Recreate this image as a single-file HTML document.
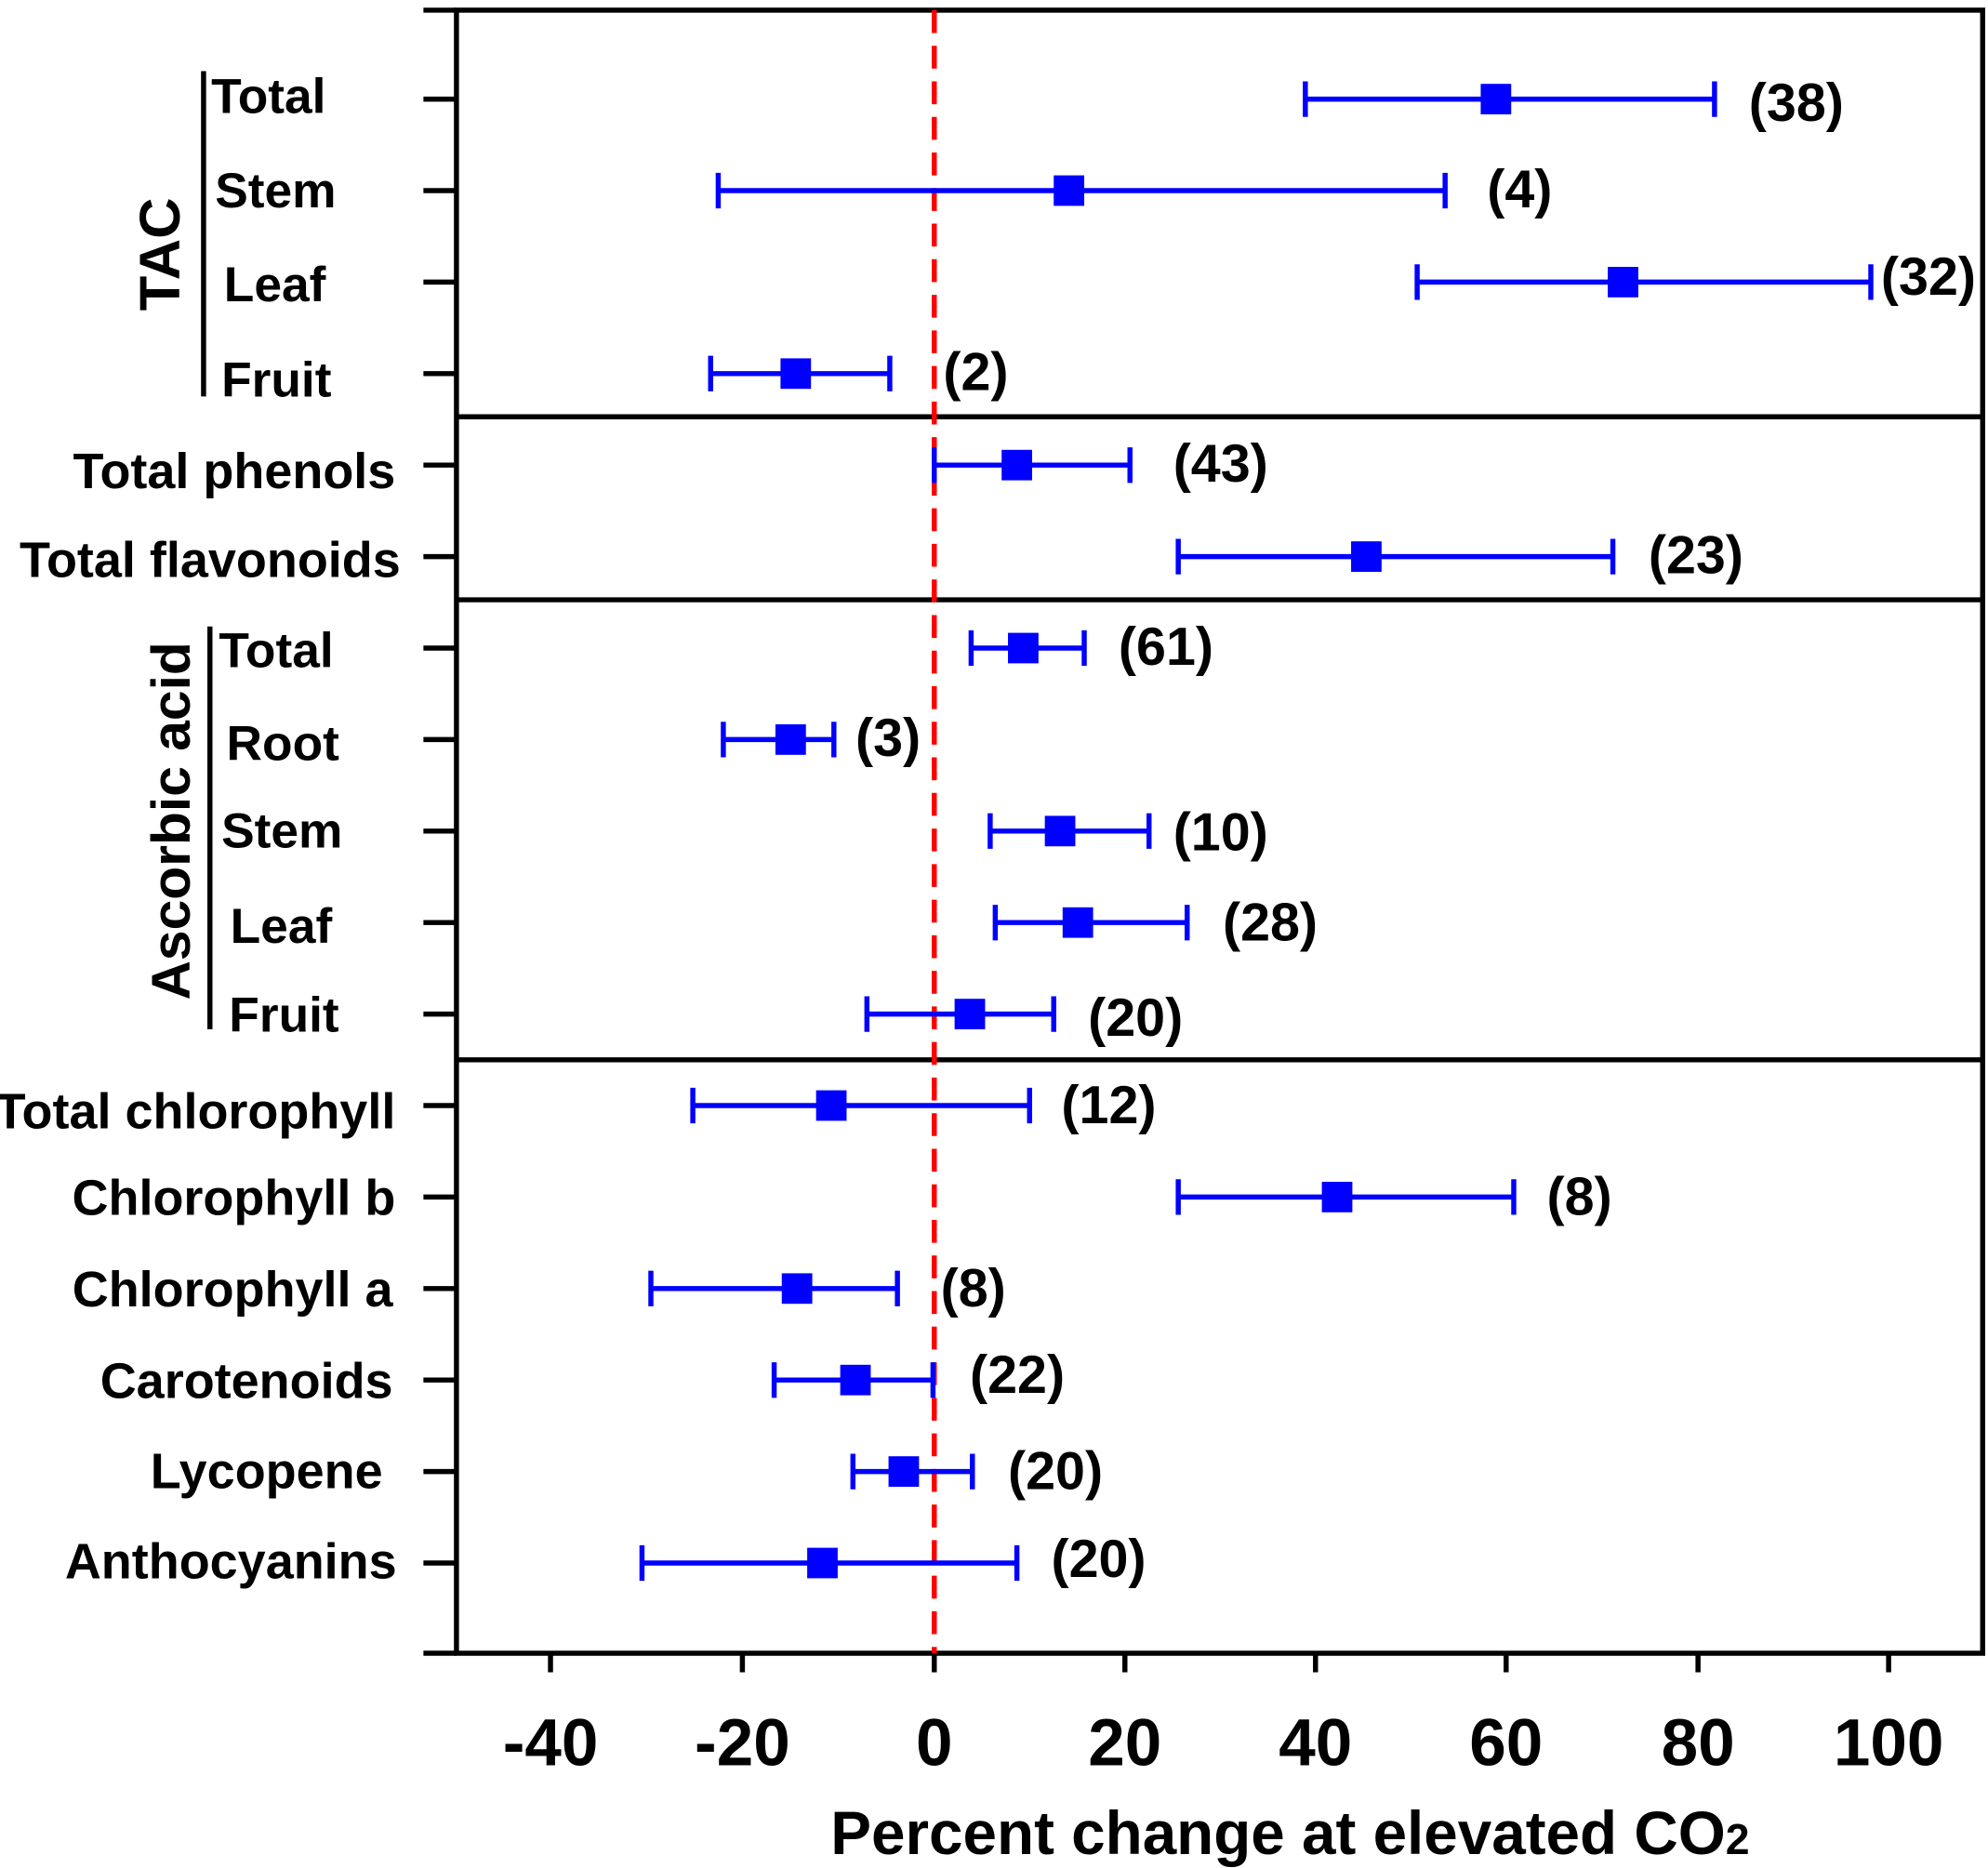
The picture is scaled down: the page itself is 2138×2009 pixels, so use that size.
<!DOCTYPE html>
<html><head><meta charset="utf-8"><style>
html,body{margin:0;padding:0;background:#fff}
svg{display:block}
text{font-family:"Liberation Sans",Arial,sans-serif;font-weight:bold;fill:#000}
</style></head><body>
<svg width="2138" height="2009" viewBox="0 0 1564 1470" xmlns="http://www.w3.org/2000/svg">
<g stroke="#000" stroke-width="4" fill="none">
<rect x="359" y="8" width="1201" height="1293"/>
<line x1="333" y1="8" x2="359" y2="8"/>
<line x1="333" y1="1301" x2="359" y2="1301"/>
<line x1="359" y1="328" x2="1560" y2="328"/>
<line x1="359" y1="472" x2="1560" y2="472"/>
<line x1="359" y1="834" x2="1560" y2="834"/>
<line x1="160" y1="56" x2="160" y2="312"/>
<line x1="165" y1="493" x2="165" y2="810"/>
</g>
<g stroke="#000" stroke-width="4">
<line x1="333" y1="78" x2="359" y2="78"/><line x1="333" y1="150" x2="359" y2="150"/>
<line x1="333" y1="222" x2="359" y2="222"/><line x1="333" y1="294" x2="359" y2="294"/>
<line x1="333" y1="366" x2="359" y2="366"/><line x1="333" y1="438" x2="359" y2="438"/>
<line x1="333" y1="510" x2="359" y2="510"/><line x1="333" y1="582" x2="359" y2="582"/>
<line x1="333" y1="654" x2="359" y2="654"/><line x1="333" y1="726" x2="359" y2="726"/>
<line x1="333" y1="798" x2="359" y2="798"/><line x1="333" y1="870" x2="359" y2="870"/>
<line x1="333" y1="942" x2="359" y2="942"/><line x1="333" y1="1014" x2="359" y2="1014"/>
<line x1="333" y1="1086" x2="359" y2="1086"/><line x1="333" y1="1158" x2="359" y2="1158"/>
<line x1="333" y1="1230" x2="359" y2="1230"/>
<line x1="433" y1="1301" x2="433" y2="1316"/><line x1="584" y1="1301" x2="584" y2="1316"/>
<line x1="735" y1="1301" x2="735" y2="1316"/><line x1="885" y1="1301" x2="885" y2="1316"/>
<line x1="1035" y1="1301" x2="1035" y2="1316"/><line x1="1185" y1="1301" x2="1185" y2="1316"/>
<line x1="1336" y1="1301" x2="1336" y2="1316"/><line x1="1486" y1="1301" x2="1486" y2="1316"/>
</g>
<line x1="735" y1="8" x2="735" y2="1301" stroke="#f00" stroke-width="4" stroke-dasharray="18,10"/>
<g stroke="#00f" stroke-width="4" fill="#00f">
<path d="M1027 78H1349M1027 64V92M1349 64V92"/><rect x="1165" y="66" width="24" height="24" stroke="none"/>
<path d="M565 150H1137M565 136V164M1137 136V164"/><rect x="829" y="138" width="24" height="24" stroke="none"/>
<path d="M1115 222H1472M1115 208V236M1472 208V236"/><rect x="1265" y="210" width="24" height="24" stroke="none"/>
<path d="M559 294H700M559 280V308M700 280V308"/><rect x="614" y="282" width="24" height="24" stroke="none"/>
<path d="M735 366H889M735 352V380M889 352V380"/><rect x="788" y="354" width="24" height="24" stroke="none"/>
<path d="M927 438H1269M927 424V452M1269 424V452"/><rect x="1063" y="426" width="24" height="24" stroke="none"/>
<path d="M764 510H853M764 496V524M853 496V524"/><rect x="793" y="498" width="24" height="24" stroke="none"/>
<path d="M569 582H656M569 568V596M656 568V596"/><rect x="610" y="570" width="24" height="24" stroke="none"/>
<path d="M779 654H904M779 640V668M904 640V668"/><rect x="822" y="642" width="24" height="24" stroke="none"/>
<path d="M783 726H934M783 712V740M934 712V740"/><rect x="836" y="714" width="24" height="24" stroke="none"/>
<path d="M682 798H829M682 784V812M829 784V812"/><rect x="751" y="786" width="24" height="24" stroke="none"/>
<path d="M545 870H810M545 856V884M810 856V884"/><rect x="642" y="858" width="24" height="24" stroke="none"/>
<path d="M927 942H1191M927 928V956M1191 928V956"/><rect x="1040" y="930" width="24" height="24" stroke="none"/>
<path d="M512 1014H706M512 1000V1028M706 1000V1028"/><rect x="615" y="1002" width="24" height="24" stroke="none"/>
<path d="M609 1086H734M609 1072V1100M734 1072V1100"/><rect x="661" y="1074" width="24" height="24" stroke="none"/>
<path d="M671 1158H765M671 1144V1172M765 1144V1172"/><rect x="699" y="1146" width="24" height="24" stroke="none"/>
<path d="M505 1230H800M505 1216V1244M800 1216V1244"/><rect x="635" y="1218" width="24" height="24" stroke="none"/>
</g>
<g font-size="42">
<text x="1376" y="95">(38)</text><text x="1170" y="163">(4)</text>
<text x="1480" y="232">(32)</text><text x="742" y="307">(2)</text>
<text x="923" y="379">(43)</text><text x="1297" y="451">(23)</text>
<text x="880" y="523">(61)</text><text x="673" y="595">(3)</text>
<text x="923" y="669">(10)</text><text x="962" y="740">(28)</text>
<text x="856" y="815">(20)</text><text x="835" y="884">(12)</text>
<text x="1217" y="956">(8)</text><text x="740" y="1028">(8)</text>
<text x="763" y="1096">(22)</text><text x="793" y="1172">(20)</text>
<text x="827" y="1241">(20)</text>
</g>
<g font-size="39">
<text x="166" y="89">Total</text><text x="169" y="163">Stem</text>
<text x="176" y="237">Leaf</text><text x="174" y="312">Fruit</text>
<text x="172" y="525">Total</text><text x="178" y="598">Root</text>
<text x="174" y="667">Stem</text><text x="181" y="742">Leaf</text>
<text x="180" y="812">Fruit</text>
</g>
<g font-size="39.5" text-anchor="end">
<text x="311" y="384">Total phenols</text>
<text x="315" y="454">Total flavonoids</text>
<text x="311" y="888">Total chlorophyll</text>
<text x="311" y="956">Chlorophyll b</text>
<text x="309" y="1028">Chlorophyll a</text>
<text x="309" y="1100">Carotenoids</text>
<text x="301" y="1171">Lycopene</text>
<text x="312" y="1242">Anthocyanins</text>
</g>
<text font-size="45" transform="translate(141,200) rotate(-90)" text-anchor="middle">TAC</text>
<text font-size="43" transform="translate(149,646) rotate(-90)" text-anchor="middle">Ascorbic acid</text>
<g font-size="52" text-anchor="middle">
<text x="433" y="1389">-40</text><text x="584" y="1389">-20</text>
<text x="735" y="1389">0</text><text x="885" y="1389">20</text>
<text x="1035" y="1389">40</text><text x="1185" y="1389">60</text>
<text x="1336" y="1389">80</text><text x="1486" y="1389">100</text>
</g>
<text font-size="48" x="1015" y="1459" text-anchor="middle">Percent change at elevated CO<tspan font-size="34">2</tspan></text>
</svg>
</body></html>
